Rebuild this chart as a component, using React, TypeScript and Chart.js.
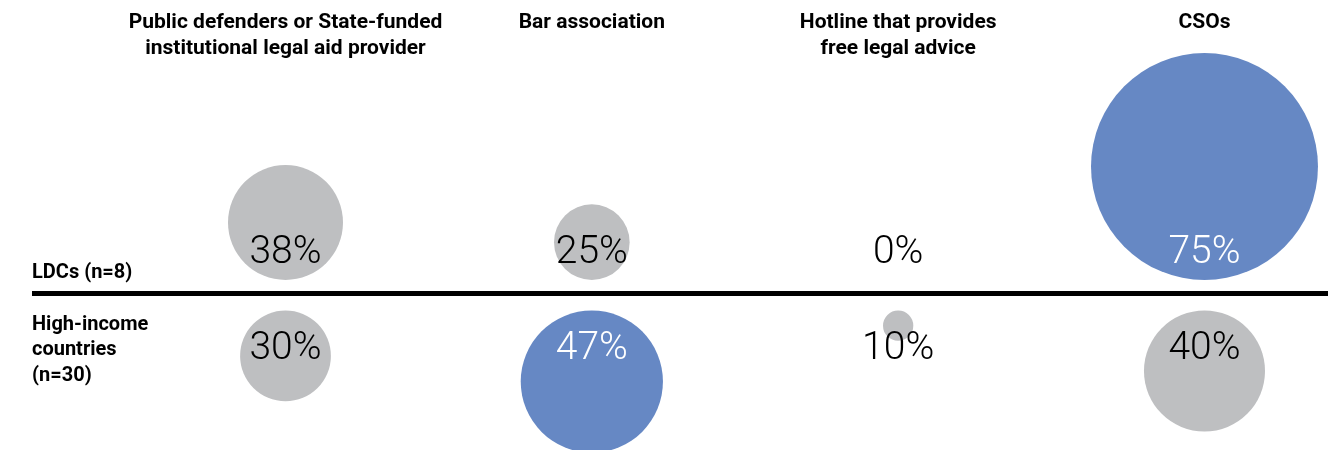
import React, { useEffect, useRef } from "react";
import { Chart, registerables } from "chart.js";

Chart.register(...registerables);

const CATEGORIES: string[][] = [
  ["Public defenders or State-funded", "institutional legal aid provider"],
  ["Bar association"],
  ["Hotline that provides", "free legal advice"],
  ["CSOs"],
];
const LDC_LABEL = ["LDCs (n=8)"];
const HIC_LABEL = ["High-income", "countries", "(n=30)"];
const LDC_VALUES = [38, 25, 0, 75];
const HIC_VALUES = [30, 47, 10, 40];

const GRAY = "#bebfc1";
const BLUE = "#6688c4";
const W = 1342;
const H = 450;
const PX_PER_POINT = 1.513; // bubble radius (px) per percentage point
const LINE_Y = 293.5;
const COL0_X = 285.5;
const COL_STEP = 306.33;
const LDC_GAP = 13.5 / PX_PER_POINT; // gap between LDC bubbles' bottom and separator (in units)
const HIC_GAP = 17 / PX_PER_POINT; // gap between separator and HIC bubbles' top (in units)
const LDC_TEXT_BASE = 31 / PX_PER_POINT;
const HIC_TEXT_BASE = -65.5 / PX_PER_POINT;

function rowColors(values: number[]) {
  const max = Math.max(...values);
  return values.map((v) => (v === max ? BLUE : GRAY));
}

export default function App() {
  const ref = useRef<HTMLCanvasElement>(null);

  useEffect(() => {
    if (!ref.current) return;
    const ldcColors = rowColors(LDC_VALUES);
    const hicColors = rowColors(HIC_VALUES);

    const labelsPlugin = {
      id: "labels",
      afterDatasetsDraw(chart: any) {
        const { ctx, scales } = chart;
        const xs = scales.x;
        const ys = scales.y;
        ctx.save();
        // separator
        ctx.fillStyle = "#000";
        const ly = ys.getPixelForValue(0);
        ctx.fillRect(32, ly - 2.5, 1296, 5);

        // headers
        ctx.textAlign = "center";
        ctx.textBaseline = "alphabetic";
        ctx.font = "bold 21px Roboto";
        CATEGORIES.forEach((lines, i) => {
          const x = xs.getPixelForValue(i);
          lines.forEach((t, j) => ctx.fillText(t, x, 28 + j * 26));
        });

        // row labels
        ctx.textAlign = "left";
        ctx.font = "bold 20px Roboto";
        LDC_LABEL.forEach((t, j) => ctx.fillText(t, 32, ly - 16 + j * 25.5));
        HIC_LABEL.forEach((t, j) => ctx.fillText(t, 32, ly + 36 + j * 25.5));

        // value labels
        ctx.textAlign = "center";
        ctx.font = "300 39px Roboto";
        const drawRow = (vals: number[], cols: string[], base: number) => {
          const y = ys.getPixelForValue(base);
          vals.forEach((v, i) => {
            ctx.fillStyle = cols[i] === BLUE ? "#ffffff" : "#000000";
            ctx.fillText(v + "%", xs.getPixelForValue(i), y);
          });
        };
        drawRow(LDC_VALUES, ldcColors, LDC_TEXT_BASE);
        drawRow(HIC_VALUES, hicColors, HIC_TEXT_BASE);
        ctx.restore();
      },
    };

    const chart = new Chart(ref.current, {
      type: "bubble",
      data: {
        datasets: [
          {
            label: "LDCs",
            data: LDC_VALUES.map((v, i) => ({ x: i, y: LDC_GAP + v, r: v * PX_PER_POINT })),
            backgroundColor: ldcColors,
            borderWidth: 0,
            hoverBorderWidth: 0,
          },
          {
            label: "High-income",
            data: HIC_VALUES.map((v, i) => ({ x: i, y: -(HIC_GAP + v), r: v * PX_PER_POINT })),
            backgroundColor: hicColors,
            borderWidth: 0,
            hoverBorderWidth: 0,
          },
        ],
      },
      options: {
        responsive: false,
        animation: false,
        events: [],
        layout: { padding: 0, autoPadding: false },
        plugins: { legend: { display: false }, tooltip: { enabled: false } },
        scales: {
          x: {
            type: "linear",
            display: false,
            min: -COL0_X / COL_STEP,
            max: (W - COL0_X) / COL_STEP,
          },
          y: {
            type: "linear",
            display: false,
            min: -(H - LINE_Y) / PX_PER_POINT,
            max: LINE_Y / PX_PER_POINT,
          },
        },
      },
      plugins: [labelsPlugin],
    });
    return () => chart.destroy();
  }, []);

  return (
    <div style={{ position: "fixed", left: 0, top: 0, width: W, height: H, background: "#fff" }}>
      <canvas ref={ref} width={W} height={H} style={{ display: "block" }} />
    </div>
  );
}
